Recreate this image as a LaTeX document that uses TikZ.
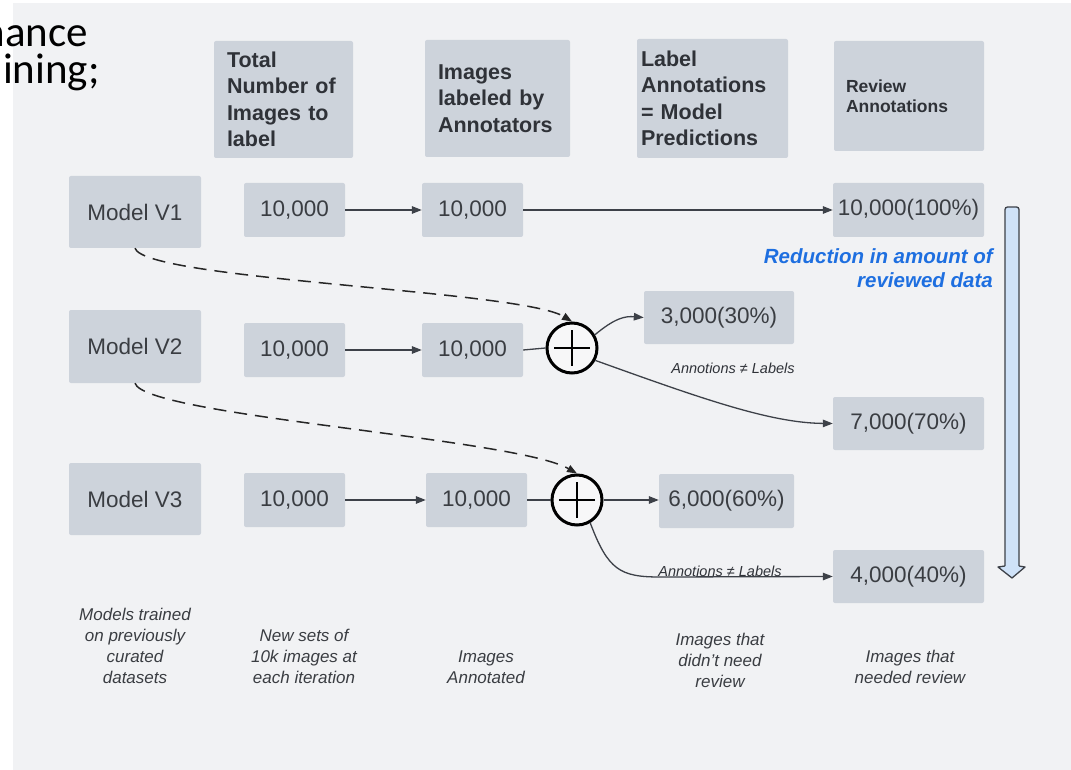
\documentclass[tikz,border=0pt]{standalone}
\usepackage{fontspec}
\setmainfont{Liberation Sans}
\newfontfamily\slidefont{Carlito}
\usetikzlibrary{arrows.meta}

\definecolor{panel}{HTML}{F1F2F4}
\definecolor{cellfill}{HTML}{CDD3DB}
\definecolor{inktext}{HTML}{3A3D42}
\definecolor{headtext}{HTML}{2F3238}
\definecolor{wire}{HTML}{3D4148}
\definecolor{notebue}{HTML}{1E6FE0}
\definecolor{barfill}{HTML}{CFE2F8}

\tikzset{
  cell/.style={fill=cellfill, rounded corners=2pt, inner sep=0pt,
    text=inktext, font=\fontsize{22.5}{27}\selectfont},
  headcell/.style={cell, text=headtext, align=left, text width=#1,
    font=\bfseries\fontsize{21.5}{26.5}\selectfont},
  flow/.style={draw=wire, line width=1.3pt, -{Triangle[length=10pt,width=7.5pt]}},
  plainwire/.style={draw=wire, line width=1.3pt},
  feed/.style={draw=black!85, line width=1.5pt, dash pattern=on 13pt off 8pt,
    -{Triangle[length=10pt,width=7.5pt]}},
  summer/.style={circle, draw=black, line width=3pt, minimum size=50pt,
    fill=panel!60!white, inner sep=0pt},
  caption/.style={align=center, text=inktext,
    font=\itshape\fontsize{17}{21}\selectfont},
  mismatch/.style={text=headtext, font=\itshape\fontsize{14.5}{17}\selectfont, inner sep=0pt},
  slideline/.style={anchor=base east, inner sep=0pt, font=\slidefont\fontsize{43}{50}\selectfont},
}

\begin{document}
\begin{tikzpicture}[x=1pt, y=-1pt]
\useasboundingbox (0,0) rectangle (1071,770);
\fill[white] (0,0) rectangle (1071,770);
\fill[panel] (13,3) rectangle (1071,770);

% slide text running in from the left
\begin{scope}
  \clip (0,0) rectangle (1071,770);
  \node[slideline] (sl1) at (88,47) {nance};
  \node[slideline] (sl2) at (100,84) {ining;};
\end{scope}

% column headers
\node[headcell=113pt, minimum width=139pt, minimum height=117pt] (hTotal) at (283.5,99.5)
  {Total\\Number of\\Images to\\label};
\node[headcell=119pt, minimum width=145pt, minimum height=117pt] (hLab) at (497.5,98.5)
  {Images\\labeled by\\Annotators};
\node[headcell=143pt, minimum width=151pt, minimum height=119pt] (hPred) at (712.5,98.5)
  {Label\\Annotations\\= Model\\Predictions};
\node[headcell=126pt, minimum width=150pt, minimum height=110pt,
      font=\bfseries\fontsize{17.5}{20.5}\selectfont] (hRev) at (909,96)
  {Review\\Annotations};

% row 1
\node[cell, minimum width=132pt, minimum height=72pt] (m1) at (135,212) {Model V1};
\node[cell, minimum width=101pt, minimum height=54pt] (t1) at (294.5,210) {10,000};
\node[cell, minimum width=101pt, minimum height=54pt] (a1) at (472.5,210) {10,000};
\node[cell, minimum width=151pt, minimum height=54pt] (r1) at (908.5,210) {10,000(100\%)};

% row 2
\node[cell, minimum width=132pt, minimum height=73pt] (m2) at (135,346.5) {Model V2};
\node[cell, minimum width=101pt, minimum height=54pt] (t2) at (294.5,350) {10,000};
\node[cell, minimum width=101pt, minimum height=54pt] (a2) at (472.5,350) {10,000};
\node[summer] (c2) at (572,348) {};
\node[cell, minimum width=150pt, minimum height=53pt] (p2) at (719,317.5) {3,000(30\%)};
\node[cell, minimum width=151pt, minimum height=53pt] (r2) at (908.5,423.5) {7,000(70\%)};

% row 3
\node[cell, minimum width=132pt, minimum height=72pt] (m3) at (135,499) {Model V3};
\node[cell, minimum width=101pt, minimum height=54pt] (t3) at (294.5,500) {10,000};
\node[cell, minimum width=101pt, minimum height=54pt] (a3) at (476.5,500) {10,000};
\node[summer] (c3) at (577,500) {};
\node[cell, minimum width=135pt, minimum height=54pt] (p3) at (726.5,501) {6,000(60\%)};
\node[cell, minimum width=151pt, minimum height=53pt] (r3) at (908.5,576.5) {4,000(40\%)};

% plus signs inside the summing circles
\foreach \c in {c2,c3}{
  \draw[line width=2.8pt] (\c.center) +(-18,0) -- +(18,0);
  \draw[line width=2.8pt] (\c.center) +(0,-18) -- +(0,18);
}

% straight flows
\draw[flow] (t1.east) -- (a1.west);
\draw[flow] (a1.east) -- (r1.west);
\draw[flow] (t2.east) -- (a2.west);
\draw[plainwire] (a2.east) -- (c2.west);
\draw[flow] (t3.east) -- (a3.west);
\draw[plainwire] (a3.east) -- (c3.west);
\draw[flow] (c3.east) -- (c3.east -| p3.west);

% split after comparison
\draw[flow] (c2.30) .. controls (615,318) and (625,316) .. (p2.west);
\draw[flow] (c2.-28) .. controls (700,398) and (770,423) .. (r2.west);
\draw[flow] (c3.-60) .. controls (608,570) and (620,577) .. (660,577) -- (r3.west);

% previous model feeds the next comparison
\draw[feed] (m1.south) .. controls (145,280) and (520,290) .. (c2.north);
\draw[feed] (m2.south) .. controls (145,416) and (515,438) .. (c3.north);

% mismatch labels
\node[mismatch] (n2) at (733,368) {Annotions ≠ Labels};
\node[mismatch] (n3) at (720,571) {Annotions ≠ Labels};

% reduction bar
\draw[fill=barfill, draw=wire, line width=1.3pt, rounded corners=2.5pt]
  (1005,567) -- (1005,207) -- (1019,207) -- (1019,567);
\draw[fill=barfill, draw=wire, line width=1.3pt, line join=round]
  (1005,566) -- (998,567) -- (1012,578) -- (1025,567) -- (1019,566);
\fill[barfill] (1006,560) rectangle (1018,568);
\node[align=right, anchor=east, text=notebue, inner sep=0pt,
      font=\bfseries\itshape\fontsize{20.5}{23.5}\selectfont] (red) at (993,268)
  {Reduction in amount of\\reviewed data};

% bottom captions
\node[caption] (k1) at (135,646) {Models trained\\on previously\\curated\\datasets};
\node[caption] (k2) at (304,656) {New sets of\\10k images at\\each iteration};
\node[caption] (k3) at (486,667) {Images\\Annotated};
\node[caption] (k4) at (720,660) {Images that\\didn't need\\review};
\node[caption] (k5) at (910,667) {Images that\\needed review};
\end{tikzpicture}
\end{document}
